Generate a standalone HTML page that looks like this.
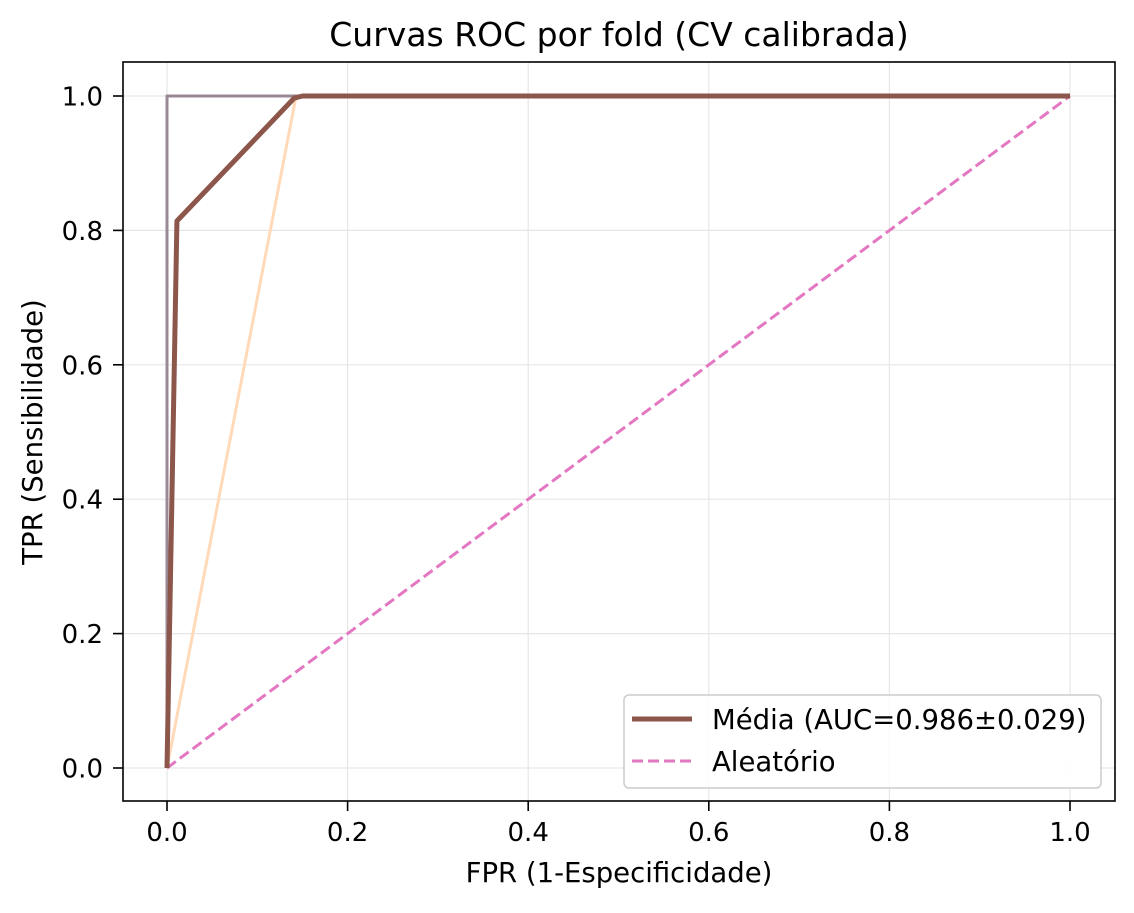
<!DOCTYPE html>
<html><head><meta charset="utf-8"><style>
html,body{margin:0;padding:0;background:#fff}
svg text{font-family:"DejaVu Sans","Liberation Sans",sans-serif;fill:#000}
</style></head><body>
<svg id="chart" width="1134" height="908" viewBox="0 0 1134 908" xmlns="http://www.w3.org/2000/svg">
<rect width="1134" height="908" fill="#fff"/>
<g id="grid"></g>
<g id="series"></g>
<rect x="123" y="62" width="992" height="739" fill="none" stroke="#000" stroke-width="1.6"/>
<g id="ticks"></g>
<text x="619" y="46" font-size="33" text-anchor="middle">Curvas ROC por fold (CV calibrada)</text>
<text x="619" y="882" font-size="27.5" text-anchor="middle">FPR (1-Especificidade)</text>
<text transform="translate(42,432) rotate(-90)" font-size="27.5" text-anchor="middle">TPR (Sensibilidade)</text>
<g>
<rect x="624" y="695" width="477" height="93" rx="5" fill="#fff" fill-opacity="0.85" stroke="#ccc" stroke-width="1.5"/>
<line x1="632" y1="719" x2="692" y2="719" stroke="#8c564b" stroke-width="5"/>
<text x="712" y="729" font-size="27.5">Média (AUC=0.986±0.029)</text>
<line x1="632" y1="761" x2="692" y2="761" stroke="#e377c2" stroke-width="3" stroke-dasharray="11,5"/>
<text x="712" y="771" font-size="27.5">Aleatório</text>
</g>
</svg>
<script>
const xTicks=[0,0.2,0.4,0.6,0.8,1.0];
const yTicks=[0,0.2,0.4,0.6,0.8,1.0];
const fold1X=[0,0,1];
const fold1Y=[0,1,1];
const fold2X=[0,0.143,1];
const fold2Y=[0,1,1];
const meanX=[0,0.011,0.141,0.15,1];
const meanY=[0,0.814,0.997,1,1];
const randX=[0,1];
const randY=[0,1];
const X=v=>167+v*903, Y=v=>768-v*672;
const NS="http://www.w3.org/2000/svg";
function mk(t,a,p){const e=document.createElementNS(NS,t);for(const k in a)e.setAttribute(k,a[k]);p.appendChild(e);return e;}
const grid=document.getElementById('grid'),ticks=document.getElementById('ticks'),ser=document.getElementById('series');
xTicks.forEach(v=>{
 const g=mk('line',{x1:X(v),x2:X(v),y1:62,y2:801,stroke:'#e6e6e6','stroke-width':1.2},grid);
 
 
 const t=mk('line',{x1:X(v),x2:X(v),y1:801,y2:811,stroke:'#000','stroke-width':1.6},ticks);
 
 
 const l=mk('text',{x:X(v),y:841,'font-size':26,'text-anchor':'middle'},ticks);l.textContent=v.toFixed(1);
 
 
});
yTicks.forEach(v=>{
 const g=mk('line',{x1:123,x2:1115,y1:Y(v),y2:Y(v),stroke:'#e6e6e6','stroke-width':1.2},grid);
 
 
 const t=mk('line',{x1:113,x2:123,y1:Y(v),y2:Y(v),stroke:'#000','stroke-width':1.6},ticks);
 
 
 const l=mk('text',{x:103,y:Y(v)+9.5,'font-size':26,'text-anchor':'end'},ticks);l.textContent=v.toFixed(1);
 
 
});
function line(xs,ys,attrs,name){
 const p=mk('polyline',Object.assign({points:xs.map((x,i)=>X(x)+','+Y(ys[i])).join(' '),fill:'none','stroke-linejoin':'round'},attrs),ser);
 
 
}
line(fold2X,fold2Y,{stroke:'#ffd9b8','stroke-width':3},'fold-curve-2');
line(fold1X,fold1Y,{stroke:'#9b8895','stroke-width':3},'fold-curve-1');
line(randX,randY,{stroke:'#e377c2','stroke-width':3,'stroke-dasharray':'11,5'},'random-line');
line(meanX,meanY,{stroke:'#8c564b','stroke-width':5},'mean-roc-curve');
</script>
</body></html>
